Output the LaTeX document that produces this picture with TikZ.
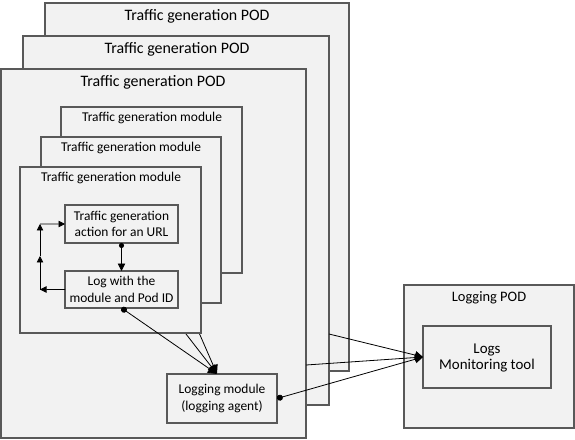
\documentclass[tikz,border=0pt]{standalone}
\usepackage{fontspec}
\setmainfont{Carlito}
\usetikzlibrary{arrows.meta,calc}
\definecolor{boxfill}{HTML}{F2F2F2}
\definecolor{boxline}{HTML}{595959}
\tikzset{
  box/.style={draw=boxline, fill=boxfill, line width=1.1bp, rectangle, inner sep=0pt, outer sep=0pt, anchor=north west},
  podtitle/.style={font=\fontsize{16}{18}\selectfont, inner sep=0pt},
  modtitle/.style={font=\fontsize{13.5}{15}\selectfont, inner sep=0pt},
  intext/.style={font=\fontsize{13.5}{16.5}\selectfont, align=center, inner sep=0pt},
  conn/.style={draw=black, line width=0.8bp},
  tip/.style={-{Triangle[length=8bp,width=8bp]}},
  bigtip/.style={-{Triangle[length=9bp,width=9bp]}},
  smalltip/.style={-{Triangle[length=6.5bp,width=6.5bp]}},
  dottip/.style={{Circle[length=6bp]}-{Triangle[length=9bp,width=9bp]}},
}
\newcommand{\mybox}[5]{%
  \node[box, minimum width=#4bp-#2bp, minimum height=#5bp-#3bp] (#1) at (#2bp,-#3bp) {};}
\begin{document}
\begin{tikzpicture}[x=1bp,y=-1bp]
\useasboundingbox (0,0) rectangle (575,440);
% PODs
\mybox{pod3}{45}{3}{349}{371}
\node[podtitle] (t3) at (197,16) {Traffic generation POD};
\mybox{pod2}{23}{36}{329}{405}
\node[podtitle] (t2) at (177,49) {Traffic generation POD};
\mybox{pod1}{1}{69}{306}{438}
\node[podtitle] (t1) at (153,82) {Traffic generation POD};
% modules
\mybox{mod3}{61}{107}{242}{273}
\node[modtitle] (m3) at (152,118) {Traffic generation module};
\coordinate (m3out) at ($(mod3.south west)+(112,0)$);
\mybox{mod2}{41}{137}{221}{303}
\node[modtitle] (m2) at (131,148) {Traffic generation module};
\coordinate (m2out) at ($(mod2.south west)+(121,0)$);
\coordinate (lmtip) at (217,374);
\draw[conn,bigtip] (m3out) -- (lmtip);
\draw[conn,bigtip] (m2out) -- (lmtip);
\mybox{mod1}{20}{167}{201}{333}
\node[modtitle] (m1) at (111,178) {Traffic generation module};
% inner boxes
\mybox{act}{65}{205}{178}{243}
\node[intext] (actt) at (act.center) {Traffic generation\\action for an URL};
\mybox{logb}{65}{271}{178}{308}
\node[intext] (logbt) at (logb.center) {Log with the\\module and Pod ID};
% logging module
\mybox{lm}{167}{374}{277}{423}
\node[intext] (lmt) at (lm.center) {Logging module\\(logging agent)};
% logging POD
\mybox{lpod}{404}{285}{574}{428}
\node[font=\fontsize{14.5}{16}\selectfont, inner sep=0pt] (lpt) at (489,298) {Logging POD};
\mybox{logs}{423}{326}{551}{388}
\node[font=\fontsize{15}{16.5}\selectfont, align=center, inner sep=0pt] (logst) at ($(logs.center)+(0,1)$) {Logs\\Monitoring tool};
% loop connectors
\coordinate (c1) at (40,289.5);
\coordinate (c2) at (40,256);
\coordinate (c3) at (40,224);
\draw[conn,{Circle[length=5bp]}-{Triangle[length=7.5bp,width=7.5bp]}] (act) -- (logb);
\draw[conn,smalltip] (logb.west) -- (c1);
\draw[conn,smalltip] (c1) -- (c2);
\draw[conn,smalltip] (c2) -- (c3);
\draw[conn,smalltip] (c3) -- (act.west);
% to logging module
\draw[conn,dottip] (logb.south) -- (lmtip);
% to logs
\coordinate (p2out) at ($(pod2.south east)+(0,-71)$);
\coordinate (p1out) at ($(pod1.south east)+(0,-73)$);
\draw[conn,tip] (p2out) -- (logs.west);
\draw[conn,tip] (p1out) -- (logs.west);
\draw[conn,{Circle[length=6bp]}-{Triangle[length=8bp,width=8bp]}] (lm.east) -- (logs.west);
\end{tikzpicture}
\end{document}
